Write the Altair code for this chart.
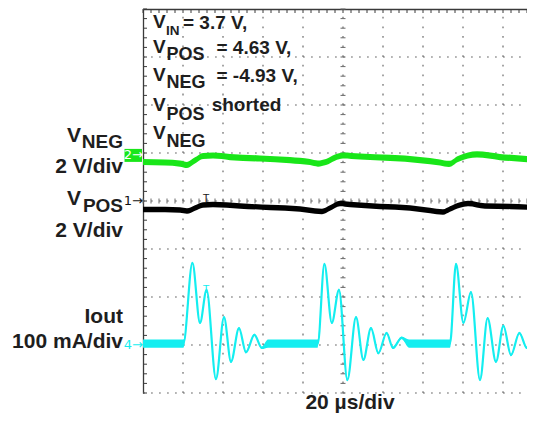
import altair as alt
import numpy as np
import pandas as pd

FONT = "Liberation Sans"
INK = "#1e1e1e"
GRID = "#6a6a6a"
FRAME = "#3a3a3a"
GREEN = "#19e619"
CYAN = "#14eef0"
BLACK = "#000000"

# ---------------- scope settings ----------------
t_window = [-100, 92]            # µs, 20 µs/div, right edge of screen cropped
div_window = [-4, 4]
major_t = [-80, -60, -40, -20, 0, 20, 40, 60, 80]
major_div = [-4, -3, -2, -1, 0, 1, 2, 3]
minor_t_step = 4                 # 1/5 div
minor_div_step = 0.2

# channel 2 : V_NEG (green), 2 V/div, AC ripple in mV
vneg_t = [-100, -89, -81.5, -78, -74, -70, -65, -56.5, -41.5, -26.5, -16.5, -12.5, -8.5,
          -4, 0, 8.5, 23.5, 38.5, 48.5, 53, 57.5, 62.5, 67, 78.5, 96]
vneg_mv = [-275, -296, -338, -400, -212, -25, -4, -67, -129, -192, -275, -338, -275,
           -88, -4, -46, -108, -192, -296, -358, -150, -4, 38, -67, -171]
vneg_noise_mv = 260
vneg_mv_per_div = 2000
vneg_offset_div = 0.95

# channel 1 : V_POS (black), 2 V/div, AC ripple in mV
vpos_t = [-100, -89, -81.5, -78, -74, -70, -65, -51.5, -36.5, -21.5, -14, -10.5, -6.5,
          -1.5, 3.5, 18.5, 33.5, 43.5, 50, 53.5, 58.5, 62.5, 71, 83.5, 96]
vpos_mv = [-354, -354, -375, -417, -292, -167, -146, -208, -271, -333, -417, -438, -292,
           -104, -146, -229, -292, -396, -458, -333, -167, -104, -208, -229, -271]
vpos_noise_mv = 220
vpos_mv_per_div = 2000
vpos_offset_div = 0.0

# channel 4 : Iout (cyan), 100 mA/div
iout_t = [-100, -79.8, -75.3, -71.5, -68.2, -63.5, -59.5, -56.0, -52.0, -48.5, -44.3, -40.6, -37.5,
          -12.6, -9.3, -5.6, -2.0, 2.2, 6.5, 10.2, 14.0, 17.7, 21.8, 25.0, 29.3, 33.0,
          53.5, 56.5, 60.2, 64.0, 68.5, 72.3, 76.5, 80.2, 84.0, 88.2, 91.9, 96.0]
iout_ma = [3, 3, 171, 46, 115, -71, 58, -35, 35, -15, 21, -6, 3,
           3, 169, 46, 115, -73, 58, -31, 35, -17, 25, -6, 15, 3,
           3, 169, 46, 110, -73, 56, -35, 40, -21, 25, -6, 15]
iout_noise_ma = [17, 17, 5, 5, 5, 5, 5, 5, 5, 5, 5, 5, 17,
                 17, 5, 5, 5, 5, 5, 5, 5, 5, 5, 5, 5, 17,
                 17, 5, 5, 5, 5, 5, 5, 5, 5, 5, 5, 5]
iout_ma_per_div = 100
iout_offset_div = -3.0

trigger_t = -68.5

channel_marks = ["2\u2192", "1\u2192", "4\u2192"]
channel_offsets = [vneg_offset_div, vpos_offset_div, iout_offset_div]
channel_mark_colors = ["#ffffff", "#111111", CYAN]


# ---------------- helpers ----------------
def trace(t, v, noise, per_div, offset):
    t = np.asarray(t, float)
    v = np.asarray(v, float)
    n = np.broadcast_to(np.asarray(noise, float), v.shape)
    return pd.DataFrame({
        "t": t,
        "div": v / per_div + offset,
        "lo": (v - n / 2) / per_div + offset,
        "hi": (v + n / 2) / per_div + offset,
    })


vneg_df = trace(vneg_t, vneg_mv, vneg_noise_mv, vneg_mv_per_div, vneg_offset_div)
vpos_df = trace(vpos_t, vpos_mv, vpos_noise_mv, vpos_mv_per_div, vpos_offset_div)
iout_df = trace(iout_t, iout_ma, iout_noise_ma, iout_ma_per_div, iout_offset_div)

xs = alt.Scale(domain=t_window, nice=False, zero=False)
ys = alt.Scale(domain=div_window, nice=False, zero=False)
x_axis = alt.Axis(orient="top", values=major_t, grid=False, labels=False, ticks=False,
                  domain=True, title=None)
y_axis = alt.Axis(orient="left", values=major_div, grid=False, labels=False, ticks=False,
                  domain=True, title=None)


def X(f="t"):
    return alt.X(f"{f}:Q", scale=xs, axis=x_axis, title=None)


def Y(f="div"):
    return alt.Y(f"{f}:Q", scale=ys, axis=y_axis, title=None)


def band_and_line(df, color, width):
    band = alt.Chart(df).mark_area(color=color, interpolate="monotone", opacity=1,
                                   clip=True).encode(x=X(), y=Y("lo"), y2="hi")
    line = alt.Chart(df).mark_line(color=color, interpolate="monotone", strokeWidth=width,
                                   clip=True).encode(x=X(), y=Y())
    return [band, line]


one = pd.DataFrame({"k": [0]})


def txt(s, x, y, size, align="left", color=INK, weight="bold", baseline="alphabetic"):
    return alt.Chart(one).mark_text(
        text=s, align=align, baseline=baseline, fontSize=size, fontWeight=weight,
        font=FONT, color=color).encode(x=alt.value(x), y=alt.value(y))


# grid (major dotted lines) and minor tick decorations, derived from the division layout
vgrid = pd.DataFrame({"t": major_t, "d0": div_window[0], "d1": div_window[1]})
hgrid = pd.DataFrame({"div": major_div, "t0": t_window[0], "t1": t_window[1]})
minor_t = np.arange(t_window[0], t_window[1] + 0.01, minor_t_step)
minor_d = np.arange(div_window[0], div_window[1] + 0.01, minor_div_step)
top_ticks = pd.DataFrame({"t": minor_t, "div": div_window[1]})
left_ticks = pd.DataFrame({"t": t_window[0], "div": minor_d})
hcenter_ticks = pd.DataFrame({"t": minor_t, "div": 0.0})
vcenter_ticks = pd.DataFrame({"t": 0.0, "div": minor_d})

layers = []
layers.append(alt.Chart(vgrid).mark_rule(color=GRID, strokeWidth=1.2, strokeDash=[1.8, 7.8])
              .encode(x=X(), y=Y("d0"), y2="d1"))
layers.append(alt.Chart(hgrid).mark_rule(color=GRID, strokeWidth=1.2, strokeDash=[1.8, 6.2])
              .encode(x=X("t0"), x2="t1", y=Y()))
layers.append(alt.Chart(top_ticks).mark_rule(color=FRAME, strokeWidth=1, y2Offset=4)
              .encode(x=X(), y=Y(), y2="div"))
layers.append(alt.Chart(left_ticks).mark_rule(color=FRAME, strokeWidth=1, x2Offset=4)
              .encode(x=X(), x2="t", y=Y()))
layers.append(alt.Chart(hcenter_ticks).mark_rule(color=GRID, strokeWidth=1, yOffset=-2.5,
                                                 y2Offset=2.5)
              .encode(x=X(), y=Y(), y2="div"))
layers.append(alt.Chart(vcenter_ticks).mark_rule(color=GRID, strokeWidth=1, xOffset=-2.5,
                                                 x2Offset=2.5)
              .encode(x=X(), x2="t", y=Y()))

layers += band_and_line(vneg_df, GREEN, 1.6)
layers += band_and_line(vpos_df, BLACK, 1.6)
layers += band_and_line(iout_df, CYAN, 2.2)

# trigger "T" cursors
trig_k = pd.DataFrame({"t": [trigger_t],
                       "div": [np.interp(trigger_t, vpos_df["t"], vpos_df["hi"])]})
trig_c = pd.DataFrame({"t": [trigger_t],
                       "div": [np.interp(trigger_t, iout_df["t"], iout_df["div"])]})
layers.append(alt.Chart(trig_k).mark_text(text="T", fontSize=11, font=FONT, baseline="bottom",
                                          dy=2, color="#202020").encode(x=X(), y=Y()))
layers.append(alt.Chart(trig_c).mark_text(text="T", fontSize=11, font=FONT, baseline="bottom",
                                          dy=2, color=CYAN).encode(x=X(), y=Y()))

# channel ground markers
mk = pd.DataFrame({"lab": channel_marks, "div": channel_offsets})
layers.append(alt.Chart(mk.iloc[[0]]).mark_rect(color=GREEN, yOffset=-6.5, y2Offset=6.5).encode(
    x=alt.value(-18.5), x2=alt.value(-1), y=Y(), y2="div"))
for i in range(len(channel_marks)):
    layers.append(alt.Chart(mk.iloc[[i]]).mark_text(
        fontSize=13, font="DejaVu Sans", baseline="middle", align="center",
        color=channel_mark_colors[i]).encode(x=alt.value(-9.7), y=Y(), text="lab:N"))

# annotation block inside the screen
layers += [
    txt("V", 10, 19.3, 19), txt("IN", 23, 26, 13.5), txt("= 3.7 V,", 40, 19.5, 19),
    txt("V", 10, 44, 19), txt("POS", 23.5, 51, 18), txt("= 4.63 V,", 73.5, 45, 19),
    txt("V", 10, 71.7, 19), txt("NEG", 23.5, 79.3, 18), txt("= -4.93 V,", 73.5, 72.5, 19),
    txt("V", 10, 102, 19), txt("POS", 23.5, 111, 18), txt("shorted", 68.7, 102, 19),
    txt("V", 10, 130, 19), txt("NEG", 23.5, 137.7, 18),
]

# channel labels on the left
layers += [
    txt("V", -62, 133, 21, align="right"), txt("NEG", -20, 139, 19, align="right"),
    txt("2 V/div", -20, 164, 21, align="right"),
    txt("V", -62, 196, 21, align="right"), txt("POS", -20, 203, 19, align="right"),
    txt("2 V/div", -20, 228, 21, align="right"),
    txt("Iout", -20, 314, 21, align="right"),
    txt("100 mA/div", -20, 339, 21, align="right"),
    txt("20 \u00b5s/div", 207, 400, 21, align="center"),
]

chart = alt.layer(*layers).properties(
    width=384, height=384,
    padding={"left": 135, "top": 1, "right": 0, "bottom": 20},
    autosize=alt.AutoSizeParams(type="none"),
    background="white",
).configure_view(stroke=None).configure_axis(
    domainColor=FRAME, domainWidth=1.3,
)

chart.save("out.html", embed_options={"renderer": "svg", "actions": False})
